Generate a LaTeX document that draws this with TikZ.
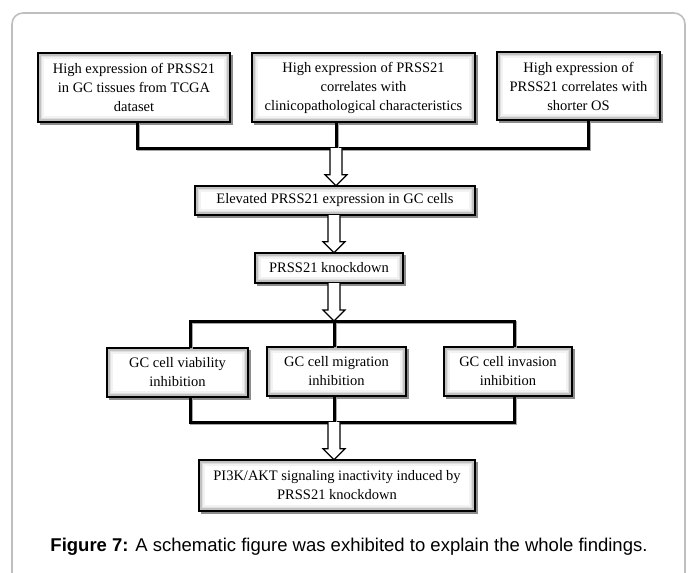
\documentclass[tikz,border=0pt]{standalone}
\usepackage{fontspec}
\setmainfont{Liberation Serif}
\newfontfamily\capfont{Liberation Sans}
\usetikzlibrary{calc,backgrounds}
\tikzset{
  box/.style={draw=none, align=center, inner sep=0pt, font=\fontsize{14.5}{19}\selectfont},
  conn/.style={line width=3pt, black, line join=miter},
  connsh/.style={line width=3pt, black!35, line join=miter},
  hollow/.style={draw=black, line width=1.2pt, fill=white, line join=miter},
  frame/.style={draw=black!25, line width=1.6pt, rounded corners=11pt}
}
\newcommand\boxdeco[1]{%
  \begin{pgfonlayer}{background}
    \fill[black!45] ($(#1.south west)+(2.5,2.5)$) rectangle ($(#1.north east)+(2.5,2.5)$);
    \fill[black!40] (#1.south west) rectangle (#1.north east);
    \fill[black!24] ($(#1.south west)+(1.5,-1.5)$) rectangle ($(#1.north east)+(-1.5,1.5)$);
    \fill[black!12] ($(#1.south west)+(3,-3)$) rectangle ($(#1.north east)+(-3,3)$);
    \fill[black!5] ($(#1.south west)+(4.5,-4.5)$) rectangle ($(#1.north east)+(-4.5,4.5)$);
    \fill[white] ($(#1.south west)+(6,-6)$) rectangle ($(#1.north east)+(-6,6)$);
    \draw[black, line width=1.8pt] (#1.south west) rectangle (#1.north east);
  \end{pgfonlayer}}
\newcommand\conn[1]{%
  \begin{scope}[transform canvas={xshift=1.6pt,yshift=-1.6pt}]\draw[connsh] #1;\end{scope}
  \draw[conn] #1;}
\newcommand\hollowarrow[2]{%
  \draw[hollow] ($(#1)+(-6,0)$) -- ($(#2)+(-6,-11)$) -- ($(#2)+(-11,-11)$) -- (#2)
    -- ($(#2)+(11,-11)$) -- ($(#2)+(6,-11)$) -- ($(#1)+(6,0)$);}
\begin{document}
\begin{tikzpicture}[x=1pt,y=-1pt]
\useasboundingbox (0,0) rectangle (689,573);
\begin{pgfonlayer}{background}
\fill[white] (0,0) rectangle (689,573);
\draw[frame] (12,620) -- (12,13) -- (685,13) -- (685,620);
\end{pgfonlayer}

% top row
\node[box, minimum width=192pt, minimum height=69pt] (b1) at (134,87.5)
  {High expression of PRSS21\\ in GC tissues from TCGA\\dataset};
\boxdeco{b1}
\node[box, minimum width=223pt, minimum height=69pt] (b2) at (363.5,87.5)
  {High expression of PRSS21\\correlates with\hspace*{44pt}\\clinicopathological characteristics};
\boxdeco{b2}
\node[box, minimum width=163pt, minimum height=68pt] (b3) at (578.5,86)
  {High expression of\\PRSS21 correlates with\\shorter OS};
\boxdeco{b3}

\coordinate (j1L) at (137,148);
\coordinate (j1M) at (336,148);
\coordinate (j1R) at (588,148);
\conn{(b1.south -| j1L) -- (j1L) -- (j1R) -- (b3.south -| j1R)}
\conn{(b2.south -| j1M) -- (j1M)}

\node[box, minimum width=280pt, minimum height=29pt] (b4) at (335,200.5)
  {Elevated PRSS21 expression in GC cells};
\boxdeco{b4}
\node[box, minimum width=148pt, minimum height=30pt] (b5) at (329,268)
  {PRSS21 knockdown};
\boxdeco{b5}

\coordinate (a1e) at (b4.north -| j1M);
\hollowarrow{j1M}{a1e}
\coordinate (a2) at (334,0);
\coordinate (a2s) at (b4.south -| a2);
\coordinate (a2e) at (b5.north -| a2);
\hollowarrow{a2s}{a2e}

% middle row
\coordinate (j2L) at (190,321);
\coordinate (j2M) at (334,321);
\coordinate (j2R) at (514,321);
\coordinate (j3L) at (190,422);
\coordinate (j3M) at (334,422);
\coordinate (j3R) at (514,422);

\node[box, minimum width=141pt, minimum height=49pt] (g1) at (177.5,372.5)
  {GC cell viability\\inhibition};
\boxdeco{g1}
\node[box, minimum width=139pt, minimum height=49pt] (g2) at (336.5,371.5)
  {GC cell migration\\inhibition};
\boxdeco{g2}
\node[box, minimum width=128pt, minimum height=49pt] (g3) at (508,371.5)
  {GC cell invasion\\inhibition};
\boxdeco{g3}

\conn{(g1.north -| j2L) -- (j2L) -- (j2R) -- (g3.north -| j2R)}
\conn{(g2.north -| j2M) -- (j2M)}
\conn{(g1.south -| j3L) -- (j3L) -- (j3R) -- (g3.south -| j3R)}
\conn{(g2.south -| j3M) -- (j3M)}

\coordinate (a3s) at (b5.south -| j2M);
\hollowarrow{a3s}{j2M}

\node[box, minimum width=276pt, minimum height=51pt] (p) at (337,485.5)
  {PI3K/AKT signaling inactivity induced by\\PRSS21 knockdown};
\boxdeco{p}
\coordinate (a4e) at (p.north -| j3M);
\hollowarrow{j3M}{a4e}

\node[font=\capfont\fontsize{18.5}{22}\selectfont, inner sep=0pt] (cap) at (349,547)
  {\textbf{Figure 7:} A schematic figure was exhibited to explain the whole findings.};
\end{tikzpicture}
\end{document}
